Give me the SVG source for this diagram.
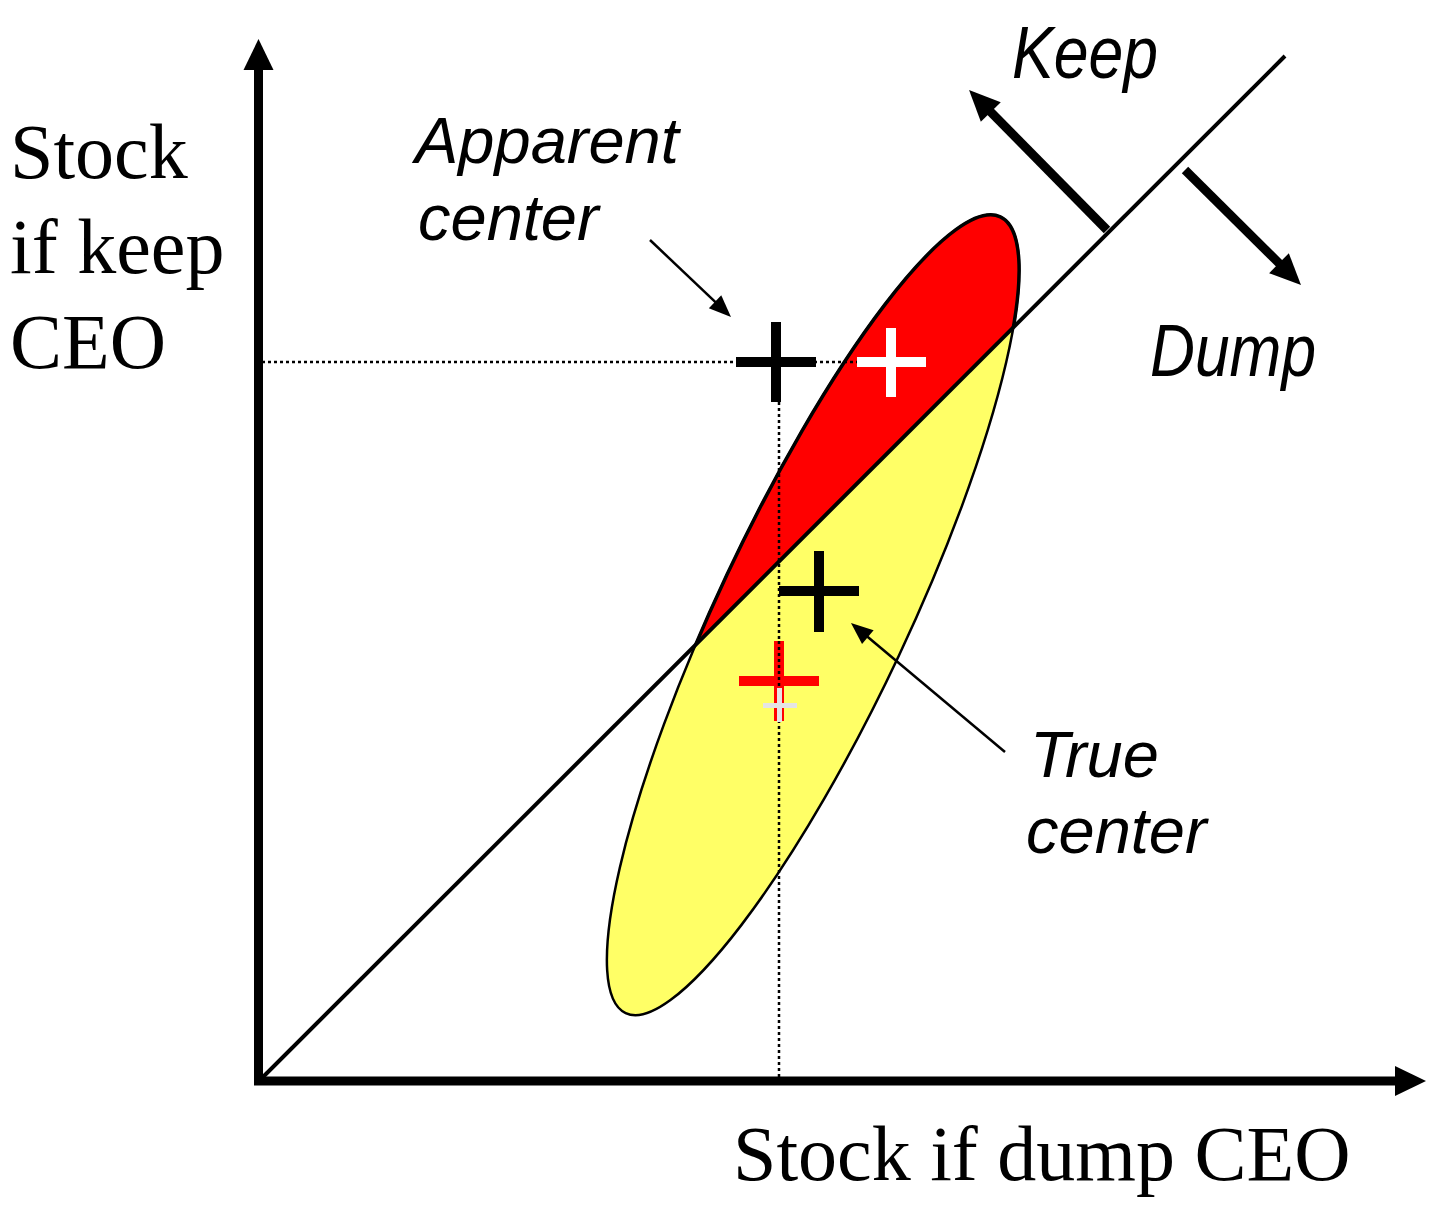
<svg xmlns="http://www.w3.org/2000/svg" width="1456" height="1218" viewBox="0 0 1456 1218">
<style>
.serif{font-family:"Liberation Serif","Times New Roman",serif;font-size:78px;fill:#000}
.ital{font-family:"Liberation Sans",Arial,sans-serif;font-style:italic;fill:#000}
.dot{stroke:#000;stroke-width:2.5;stroke-dasharray:3 3;fill:none}
.thin{stroke:#000;stroke-width:2.5;fill:none}
.thick{stroke:#000;stroke-width:9;fill:none}
.bar{stroke-width:10;fill:none;stroke-linecap:butt}
</style>
<defs>
<marker id="bigHead" markerUnits="userSpaceOnUse" orient="auto" overflow="visible" refX="0" refY="0" markerWidth="30" markerHeight="30">
<path d="M-2,-14 L29,0 L-2,14 z" fill="#000"/>
</marker>
<marker id="axisHead" markerUnits="userSpaceOnUse" orient="auto" overflow="visible" refX="0" refY="0" markerWidth="30" markerHeight="30">
<path d="M-2,-15 L29,0 L-2,15 z" fill="#000"/>
</marker>
<marker id="smallHead" markerUnits="userSpaceOnUse" orient="auto" overflow="visible" refX="0" refY="0" markerWidth="22" markerHeight="20">
<path d="M-2,-9 L20,0 L-2,9 z" fill="#000"/>
</marker>
<clipPath id="aboveLine">
<polygon points="0,0 1340,0 0,1340"/>
</clipPath>
</defs>

<g id="distribution">
<ellipse cx="813" cy="615" rx="440" ry="95" transform="rotate(-64.8 813 615)" fill="#FFFF66" stroke="#000" stroke-width="2.5"/>
</g>
<g id="keep-region" clip-path="url(#aboveLine)">
<ellipse cx="813" cy="615" rx="440" ry="95" transform="rotate(-64.8 813 615)" fill="#FF0000" stroke="#000" stroke-width="3.5"/>
</g>

<g id="connectors">
<line x1="259" y1="1081" x2="1285" y2="56" stroke="#000" stroke-width="4"/>
<line class="dot" x1="262" y1="362" x2="857" y2="362"/>
<line class="dot" x1="779" y1="402" x2="779" y2="1078"/>
<line class="thick" x1="258.5" y1="1085" x2="258.5" y2="68" marker-end="url(#axisHead)"/>
<line class="thick" x1="254" y1="1081" x2="1397" y2="1081" marker-end="url(#axisHead)"/>
<line class="thick" x1="1107" y1="230" x2="989.4" y2="110.6" marker-end="url(#bigHead)"/>
<line class="thick" x1="1185" y1="170" x2="1280.4" y2="264.6" marker-end="url(#bigHead)"/>
<line class="thin" x1="650" y1="240" x2="716.5" y2="303.2" marker-end="url(#smallHead)"/>
<line class="thin" x1="1005" y1="752" x2="866.3" y2="635.8" marker-end="url(#smallHead)"/>
</g>

<g id="apparent-center-cross">
<path class="bar" stroke="#000" d="M736,362 H816 M776,322 V402"/>
</g>
<g id="keep-mean-cross">
<path class="bar" stroke="#FFFFFF" d="M857,362 H926 M891,328 V397"/>
</g>
<g id="true-center-cross">
<path class="bar" stroke="#000" d="M779,591 H859 M819,551 V632"/>
</g>
<g id="dump-mean-cross">
<path class="bar" stroke="#FF0000" d="M739,681 H819 M779,641 V721"/>
<line class="dot" x1="779" y1="641" x2="779" y2="688"/>
<path stroke="#E4E4E4" stroke-width="5" fill="none" d="M763,705.5 H797 M779.5,688 V722"/>
</g>

<g id="y-label">
<text class="serif" x="10" y="178">Stock</text>
<text class="serif" x="10" y="273">if keep</text>
<text class="serif" x="10" y="368">CEO</text>
</g>
<g id="x-label">
<text class="serif" x="733" y="1180">Stock if dump CEO</text>
</g>
<g id="apparent-label">
<text class="ital" font-size="65" x="415" y="163">Apparent</text>
<text class="ital" font-size="65" x="418" y="240">center</text>
</g>
<g id="true-label">
<text class="ital" font-size="65" x="1030" y="777">True</text>
<text class="ital" font-size="65" x="1026" y="853">center</text>
</g>
<g id="keep-label">
<text class="ital" font-size="74" x="1012" y="78" textLength="146" lengthAdjust="spacingAndGlyphs">Keep</text>
</g>
<g id="dump-label">
<text class="ital" font-size="74" x="1150" y="376" textLength="166" lengthAdjust="spacingAndGlyphs">Dump</text>
</g>
</svg>
